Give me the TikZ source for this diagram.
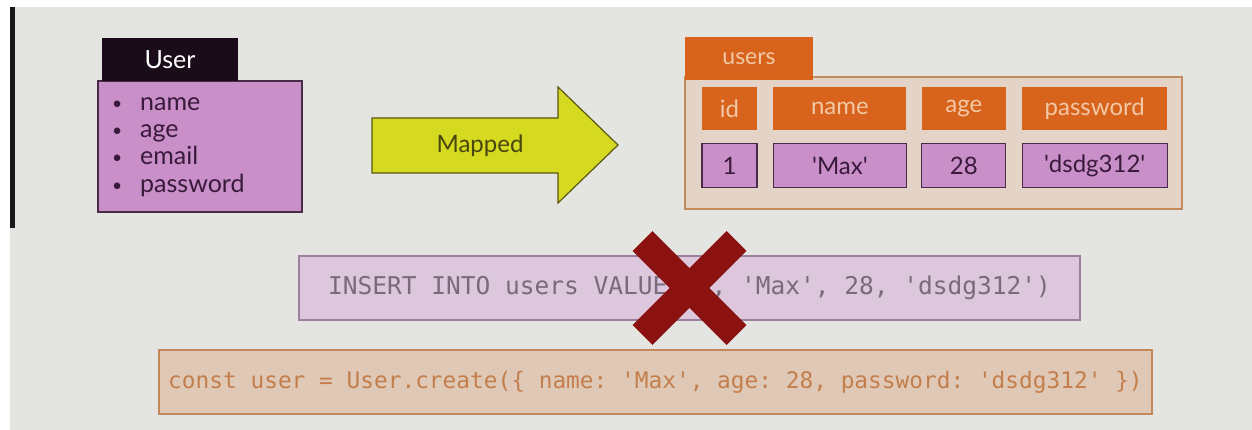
\documentclass[tikz,border=0pt]{standalone}
\usepackage{fontspec}
\setmainfont{Lato}
\setmonofont{DejaVu Sans Mono}
\usetikzlibrary{positioning}

\definecolor{slidebg}{HTML}{E4E4E0}
\definecolor{headdark}{HTML}{1A0C18}
\definecolor{lilac}{HTML}{C88FC9}
\definecolor{lilacline}{HTML}{4A2A48}
\definecolor{lilactext}{HTML}{3A1A3A}
\definecolor{mapyellow}{HTML}{D5D91F}
\definecolor{mapline}{HTML}{5A5812}
\definecolor{tblorange}{HTML}{D8631C}
\definecolor{tblpeach}{HTML}{F2C8A6}
\definecolor{tblbg}{HTML}{E3D4C7}
\definecolor{tblline}{HTML}{C48A5E}
\definecolor{sqlbg}{HTML}{DCC7DC}
\definecolor{sqlline}{HTML}{9A809A}
\definecolor{sqltext}{HTML}{7B6A7B}
\definecolor{crossred}{HTML}{8C1111}
\definecolor{jsbg}{HTML}{DFC9B6}
\definecolor{jsline}{HTML}{C4875C}
\definecolor{jstext}{HTML}{C47E4C}

\newcommand{\fieldbullet}{\makebox[32pt][l]{\hspace{4pt}\raisebox{1pt}{\scalebox{0.7}{\textbullet}}}}

\begin{document}
\begin{tikzpicture}[x=1pt, y=-1pt,
  modelhead/.style={fill=headdark, text=white, inner sep=0pt,
    font=\fontsize{25}{25}\selectfont},
  modelbody/.style={fill=lilac, draw=lilacline, line width=1.2pt, inner sep=0pt},
  fieldlist/.style={text=lilactext, align=left, inner sep=0pt,
    font=\fontsize{25}{27.3}\selectfont},
  colhead/.style={fill=tblorange, text=tblpeach, inner sep=0pt,
    minimum height=43pt, font=\fontsize{24}{24}\selectfont},
  colcell/.style={fill=lilac, draw=lilacline, line width=1.2pt, inner sep=0pt,
    minimum height=44pt, text=lilactext, font=\fontsize{24}{24}\selectfont},
  codebox/.style={line width=1.2pt, inner sep=0pt, minimum height=64pt},
  xmark/.style={crossred, line width=28pt}]

  % slide background
  \useasboundingbox (0,0) rectangle (1252,430);
  \fill[white] (0,0) rectangle (1252,430);
  \fill[slidebg] (10,7) rectangle (1252,430);
  \fill[black!90] (10,7) rectangle (15,228);

  % User model
  \node[modelbody, minimum width=204pt, minimum height=131pt] (userbody) at (200,146.5) {};
  \node[modelhead, minimum width=136pt, minimum height=43pt] (userhead) at (170,60) {User};
  \node[fieldlist, anchor=west] (fields) at (108,147)
    {\fieldbullet name\\
     \fieldbullet age\\
     \fieldbullet email\\
     \fieldbullet password};

  % mapping arrow
  \draw[fill=mapyellow, draw=mapline, line width=1.2pt, line join=miter]
    (372,118) -- (558,118) -- (558,87) -- (618,145) -- (558,203)
    -- (558,173) -- (372,173) -- cycle;
  \node[text=mapline!80!black, font=\fontsize{24}{24}\selectfont] (mapped) at (480,146) {Mapped};

  % users table
  \draw[fill=tblbg, draw=tblline, line width=1.2pt] (685,77) rectangle (1182,209);
  \node[fill=tblorange, text=tblpeach, inner sep=0pt, minimum width=128pt, minimum height=43pt,
    font=\fontsize{23}{23}\selectfont] (tbltab) at (749,58.5) {users};

  \node[colhead, minimum width=55pt] (hid) at (729.5,108.5) {id};
  \node[colhead, minimum width=133pt, right=16pt of hid] (hname) {name};
  \node[colhead, minimum width=84pt, right=15pt of hname] (hage) {age};
  \node[colhead, minimum width=145pt, right=16pt of hage] (hpass) {password};

  \node[colcell, minimum width=55pt, below=13pt of hid] (cid) {1};
  \node[colcell, minimum width=133pt, below=13pt of hname] (cname) {\textquotesingle Max\textquotesingle};
  \node[colcell, minimum width=84pt, below=13pt of hage] (cage) {28};
  \node[colcell, minimum width=145pt, below=13pt of hpass] (cpass) {\textquotesingle dsdg312\textquotesingle};

  % raw sql (crossed out)
  \node[codebox, fill=sqlbg, draw=sqlline, text=sqltext, minimum width=781pt,
    font=\fontsize{24.5}{24.5}\selectfont\ttfamily] (sql) at (689.5,288)
    {INSERT INTO users VALUES(1, 'Max', 28, 'dsdg312')};
  \draw[xmark] ([shift={(-47,-47)}]sql.center) -- ([shift={(47,47)}]sql.center);
  \draw[xmark] ([shift={(-47,47)}]sql.center) -- ([shift={(47,-47)}]sql.center);

  % sequelize call
  \node[codebox, fill=jsbg, draw=jsline, text=jstext, minimum width=993pt,
    font=\fontsize{22.8}{22.8}\selectfont\ttfamily] (jscall) at (655.5,382)
    {const user = User.create(\{ name: 'Max', age: 28, password: 'dsdg312' \})};
\end{tikzpicture}
\end{document}
